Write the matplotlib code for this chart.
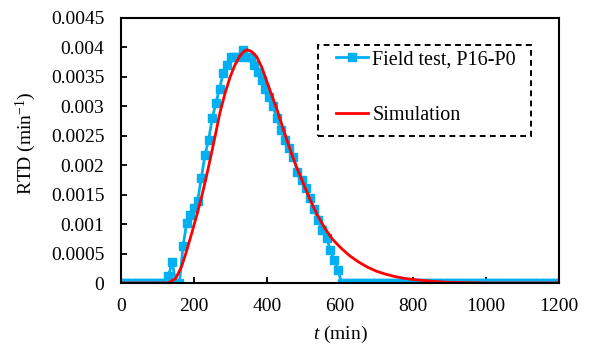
import matplotlib
matplotlib.use("Agg")
import matplotlib.pyplot as plt
from matplotlib.patches import Rectangle
import numpy as np

plt.rcParams['font.family'] = ['Liberation Serif', 'DejaVu Serif']
plt.rcParams['mathtext.fontset'] = 'custom'
plt.rcParams['mathtext.rm'] = 'Liberation Serif'
plt.rcParams['mathtext.it'] = 'Liberation Serif:italic'

# field test, P16-P0
field_t = [0, 10, 20, 30, 40, 50, 60, 70, 80, 90, 100, 110, 120, 130, 140, 150, 160,
           170, 180, 190, 200, 210, 220, 230, 240, 250, 260, 270, 280, 290, 300,
           310, 320, 335, 345, 355, 365, 376, 386, 395, 405, 416, 427, 437, 449,
           460, 472, 483, 495, 506, 518, 529, 540, 551, 564, 573, 584, 594, 605,
           615, 625, 635, 645, 655, 665, 675, 685, 695, 705, 715, 725, 735, 745,
           755, 765, 775, 785, 795, 805, 815, 825, 835, 845, 855, 865, 875, 885,
           895, 905, 915, 925, 935, 945, 955, 965, 975, 985, 995, 1005, 1015,
           1025, 1035, 1045, 1055, 1065, 1075, 1085, 1095, 1105, 1115, 1125,
           1135, 1145, 1155, 1165, 1175, 1185, 1195]
field_rtd = [0, 0, 0, 0, 0, 0, 0, 0, 0, 0, 0, 0, 0, 0.00012, 0.00036, 0, 0,
             0.00063, 0.00102, 0.00115, 0.00127, 0.0014, 0.00178, 0.00217, 0.00243,
             0.0028, 0.00305, 0.0033, 0.00357, 0.0037, 0.00384,
             0.00384, 0.00384, 0.00396, 0.00384, 0.00383, 0.0037, 0.00359, 0.00345,
             0.0033, 0.00316, 0.003, 0.0028, 0.0026, 0.00243,
             0.00229, 0.00214, 0.00189, 0.00175, 0.00161, 0.00144, 0.00125, 0.00107,
             0.0009, 0.00076, 0.00056, 0.00039, 0.00022, 0] + [0] * 59

# simulation
sim_t = [0, 100, 130, 150, 166, 180, 194, 208, 221, 233, 244, 258, 271, 285, 299,
         312, 326, 338, 346, 358, 372, 386, 399, 413, 427, 440, 454, 467, 481,
         495, 509, 522, 536, 550, 564, 580, 600, 625, 650, 675, 700, 725, 750,
         775, 800, 850, 900, 950, 1000, 1200]
sim_rtd = [0, 0, 0, 0.00008, 0.00028, 0.00055, 0.00085, 0.00116, 0.00147, 0.00178,
           0.00209, 0.0025, 0.00289, 0.00322, 0.0035, 0.0037, 0.00386, 0.00394,
           0.00396, 0.00393, 0.00384, 0.00366, 0.00343, 0.00319, 0.00295, 0.0027,
           0.00244, 0.0022, 0.00197, 0.00176, 0.00155, 0.00136, 0.00118, 0.00102,
           0.00088, 0.00074, 0.00061, 0.00047, 0.00036, 0.00027, 0.0002, 0.00015,
           0.00011, 0.00008, 0.00006, 0.00003, 0.00001, 0.000005, 0, 0]

W, H = 590, 346
fig = plt.figure(figsize=(W / 100, H / 100), dpi=100)
ax = fig.add_axes([121 / W, 1 - 283 / H, 438 / W, 265 / H])

ax.plot(field_t, field_rtd, color='#00B0F0', lw=2, marker='s', ms=5.5,
        label='Field test, P16-P0')
ax.plot(sim_t, sim_rtd, color='#FF0000', lw=2, label='Simulation')

ax.set_xlim(0, 1200)
ax.set_ylim(0, 0.0045)
ax.set_xticks(np.arange(0, 1201, 200))
ax.set_yticks(np.arange(0, 0.00451, 0.0005))
ax.set_yticklabels(['0', '0.0005', '0.001', '0.0015', '0.002', '0.0025',
                    '0.003', '0.0035', '0.004', '0.0045'])
ax.tick_params(direction='in', length=4, width=1.3, labelsize=14,
               top=False, right=False)
ax.tick_params(axis='x', pad=11)
ax.tick_params(axis='y', pad=12)
for s in ax.spines.values():
    s.set_linewidth(1.5)

ax.set_xlabel(r'$\mathit{t}$ (min)', fontsize=14)
ax.set_ylabel(r'RTD (min$^{\mathregular{-1}}$)', fontsize=14)
ax.xaxis.set_label_coords(0.5, (283 - 324) / 265)
ax.yaxis.set_label_coords((38 - 121) / 438, (283 - 143) / 265)

# dashed legend box
fig.patches.append(Rectangle((318 / W, 1 - 136 / H), 213 / W, 91 / H,
                             transform=fig.transFigure, fill=False,
                             edgecolor='black', lw=1.4, ls=(0, (3, 2.2))))
ax.legend(loc='upper left', bbox_to_anchor=(336 / W, 1 - 50 / H),
          bbox_transform=fig.transFigure, fontsize=14.5, frameon=False,
          handlelength=1.6, handletextpad=0.2, labelspacing=1.85,
          borderpad=0, borderaxespad=0)

fig.savefig('out.png', dpi=100)
